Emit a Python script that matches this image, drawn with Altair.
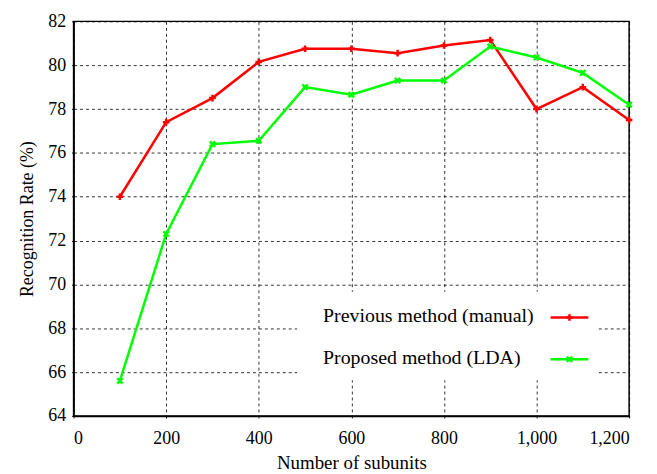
import altair as alt
import pandas as pd

# ---- data ----
subunits = [100, 200, 300, 400, 500, 600, 700, 800, 900, 1000, 1100, 1200]
manual = [74.0, 77.4, 78.5, 80.15, 80.75, 80.75, 80.55, 80.9, 81.15, 78.0, 79.0, 77.5]
lda = [65.6, 72.3, 76.4, 76.55, 79.0, 78.65, 79.3, 79.3, 80.85, 80.35, 79.65, 78.2]
series_names = ["Previous method (manual)", "Proposed method (LDA)"]
series_colors = ["#ff0000", "#00ff00"]
x_ticks = [0, 200, 400, 600, 800, 1000, 1200]
y_ticks = [64, 66, 68, 70, 72, 74, 76, 78, 80, 82]

FONT = "Liberation Serif"
PLUS = "M0,-1V1M-1,0H1"
XMARK = "M-0.8,-0.8L0.8,0.8M0.8,-0.8L-0.8,0.8"

rows = []
for name, vals in zip(series_names, [manual, lda]):
    for n, v in zip(subunits, vals):
        rows.append({"n": n, "rate": v, "series": name})
df = pd.DataFrame(rows)

color_scale = alt.Scale(domain=series_names, range=series_colors)
shape_scale = alt.Scale(domain=series_names, range=[PLUS, XMARK])

base = alt.Chart(df).encode(
    x=alt.X("n:Q", scale=alt.Scale(domain=[0, 1200], nice=False),
            axis=alt.Axis(values=x_ticks, format=",d", title="Number of subunits",
                          labelPadding=12, titlePadding=6, titleFontSize=19)),
    y=alt.Y("rate:Q", scale=alt.Scale(domain=[64, 82], nice=False, zero=False),
            axis=alt.Axis(values=y_ticks, format="d", title="Recognition Rate (%)",
                          labelPadding=6, titlePadding=11, titleFontSize=18)),
    color=alt.Color("series:N", scale=color_scale, legend=None),
)

lines = base.mark_line(strokeWidth=2.5)
points = base.mark_point(filled=False, strokeWidth=2.5, size=45, opacity=1).encode(
    shape=alt.Shape("series:N", scale=shape_scale, legend=None)
)

one = pd.DataFrame({"a": [0]})
box = alt.Chart(one).mark_rect(fill="white").encode(
    x=alt.value(225), x2=alt.value(527), y=alt.value(272), y2=alt.value(361)
)

legend_layers = []
for i, (name, col, shp) in enumerate(zip(series_names, series_colors, [PLUS, XMARK])):
    yy = 297 + i * 42
    legend_layers.append(
        alt.Chart(one).mark_text(align="left", baseline="middle", font=FONT,
                                 fontSize=20, color="black", text=name)
        .encode(x=alt.value(251), y=alt.value(yy))
    )
    legend_layers.append(
        alt.Chart(one).mark_rule(color=col, strokeWidth=2.5)
        .encode(x=alt.value(480), x2=alt.value(518), y=alt.value(yy + 1))
    )
    legend_layers.append(
        alt.Chart(one).mark_point(shape=shp, color=col, filled=False,
                                  strokeWidth=2.5, size=45, opacity=1)
        .encode(x=alt.value(499), y=alt.value(yy + 1))
    )

chart = alt.layer(lines, points, box, *legend_layers).properties(
    width=559, height=397,
    autosize=alt.AutoSizeParams(type="none"),
    padding={"left": 66, "top": 12, "right": 20, "bottom": 57},
).configure_view(
    stroke="black", strokeWidth=1.5
).configure_axis(
    labelFont=FONT, titleFont=FONT, labelFontSize=18, titleFontSize=20,
    labelColor="black", titleColor="black", titleFontWeight="normal",
    domainColor="black", domainWidth=1.5,
    tickColor="black", tickSize=2,
    grid=True, gridColor="black", gridDash=[3, 3], gridWidth=0.8, gridOpacity=1,
)

chart.save("out.html", embed_options={"renderer": "svg", "actions": False})
